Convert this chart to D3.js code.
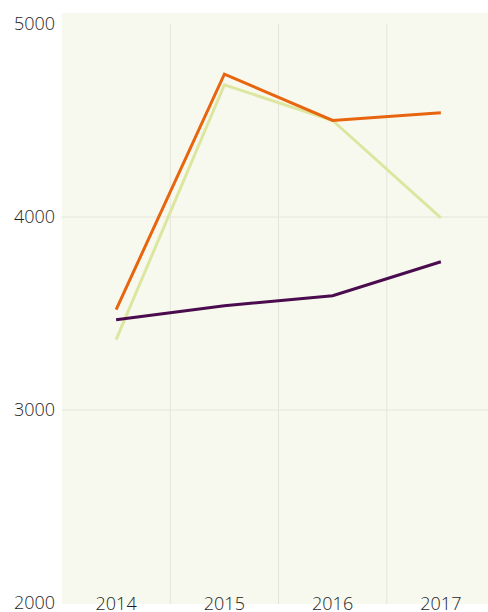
<!DOCTYPE html>
<html>
<head>
<meta charset="utf-8">
<script src="https://cdn.jsdelivr.net/npm/d3@7"></script>
<style>
  body { margin: 0; background: #fff; }
  text { font-family: "Open Sans", sans-serif; font-size: 18px; font-weight: 300; fill: #1e1e1e; }
</style>
</head>
<body>
<svg width="488" height="612"></svg>
<script>
const years = ["2014", "2015", "2016", "2017"];
const seriesOrange = [3520, 4740, 4500, 4540];
const seriesGreen = [3365, 4685, 4500, 3995];
const seriesPurple = [3468, 3540, 3592, 3768];
const yTicks = [2000, 3000, 4000, 5000];

const svg = d3.select("svg");

const x = d3.scaleBand().domain(years).range([62, 495]).padding(0);
const y = d3.scaleLinear().domain([2000, 5000]).range([603, 24]);

svg.append("rect")
  .attr("x", 62).attr("y", 13)
  .attr("width", 426).attr("height", 591)
  .attr("fill", "#f8f9ee");

// vertical grid at band edges
svg.append("g")
  .selectAll("line")
  .data(years.slice(1))
  .enter().append("line")
  .attr("x1", d => x(d)).attr("x2", d => x(d))
  .attr("y1", y(5000)).attr("y2", 604)
  .attr("stroke", "#e4e4dc").attr("stroke-width", 1);

svg.append("g")
  .selectAll("line")
  .data([3000, 4000])
  .enter().append("line")
  .attr("x1", 62).attr("x2", 488)
  .attr("y1", d => y(d)).attr("y2", d => y(d))
  .attr("stroke", "#e4e4dc").attr("stroke-width", 1);

const line = d3.line()
  .x((d, i) => x(years[i]) + x.bandwidth() / 2)
  .y(d => y(d));

[[seriesGreen, "#dde6a0"], [seriesOrange, "#e8650f"], [seriesPurple, "#4a0c4e"]]
  .forEach(([s, c]) => {
    svg.append("path")
      .datum(s)
      .attr("d", line)
      .attr("fill", "none")
      .attr("stroke", c)
      .attr("stroke-width", 3);
  });

svg.append("g")
  .selectAll("text")
  .data(yTicks)
  .enter().append("text")
  .attr("x", 55)
  .attr("y", d => y(d))
  .attr("dy", "0.35em")
  .attr("text-anchor", "end")
  .text(d => d);

svg.append("g")
  .selectAll("text")
  .data(years)
  .enter().append("text")
  .attr("x", d => x(d) + x.bandwidth() / 2)
  .attr("y", 604)
  .attr("dy", "0.35em")
  .attr("text-anchor", "middle")
  .text(d => d);
</script>
</body>
</html>
